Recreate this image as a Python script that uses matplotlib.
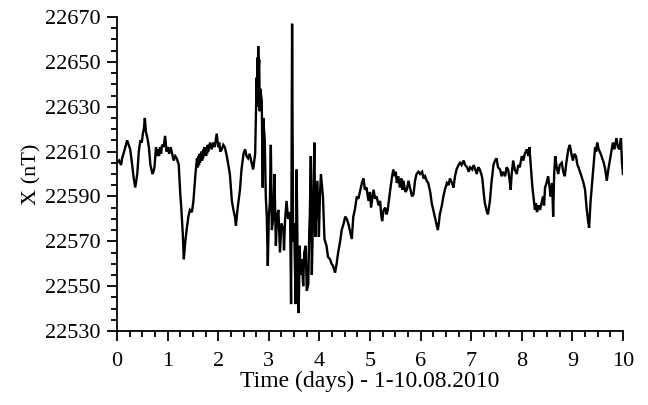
import matplotlib
matplotlib.use("Agg")
import matplotlib.pyplot as plt
from matplotlib.ticker import MultipleLocator, FixedLocator

plt.rcParams['font.family'] = ['Liberation Serif', 'DejaVu Serif']

days = [
    0.00, 0.04, 0.08, 0.10, 0.14, 0.20, 0.23, 0.26, 0.30, 0.33, 0.36, 0.38, 0.40, 0.43, 0.46, 0.49,
    0.51, 0.53, 0.55, 0.57, 0.60, 0.63, 0.66, 0.70, 0.72, 0.74, 0.77, 0.79, 0.81, 0.83, 0.85, 0.87,
    0.89, 0.92, 0.95, 0.98, 1.00, 1.03, 1.06, 1.09, 1.12, 1.15, 1.18, 1.22, 1.25, 1.27, 1.30, 1.32,
    1.35, 1.38, 1.41, 1.44, 1.48, 1.51, 1.55, 1.58,
    1.60, 1.61, 1.62, 1.63, 1.64, 1.65, 1.66, 1.67, 1.68, 1.69, 1.70, 1.71, 1.72, 1.73, 1.74, 1.75,
    1.76, 1.77, 1.78, 1.79, 1.80, 1.82, 1.84, 1.87, 1.90, 1.93, 1.97,
    2.00, 2.02, 2.04, 2.07, 2.10, 2.13, 2.17, 2.20, 2.23, 2.27, 2.30, 2.33, 2.35, 2.38, 2.43, 2.46,
    2.50, 2.53, 2.56, 2.59, 2.62, 2.66, 2.69, 2.73,
    2.76, 2.77, 2.78, 2.785, 2.79, 2.80, 2.81, 2.82, 2.83, 2.86, 2.88, 2.89, 2.92, 2.94, 2.96, 2.98,
    3.00, 3.02, 3.04, 3.06,
    3.09, 3.11, 3.14, 3.16, 3.19, 3.22, 3.25, 3.29, 3.30, 3.32, 3.35, 3.38, 3.42, 3.44, 3.46, 3.48,
    3.50, 3.53, 3.55, 3.57, 3.59, 3.61, 3.63, 3.65, 3.68, 3.70, 3.73, 3.75, 3.78, 3.80, 3.81, 3.83,
    3.85, 3.88, 3.90, 3.92, 3.93, 3.96, 3.99, 4.01, 4.03, 4.05, 4.07, 4.10, 4.14, 4.17, 4.21, 4.24,
    4.27, 4.31, 4.34, 4.37, 4.41, 4.44, 4.48, 4.51, 4.54, 4.57, 4.61, 4.64, 4.67, 4.70, 4.74, 4.77,
    4.80, 4.84, 4.87, 4.90, 4.93, 4.97, 5.00, 5.02, 5.05, 5.07, 5.10, 5.13, 5.17, 5.20, 5.22, 5.24,
    5.27, 5.30, 5.33, 5.35, 5.40, 5.43, 5.46, 5.49, 5.51, 5.53, 5.56, 5.59, 5.62, 5.64, 5.66, 5.70,
    5.73, 5.76, 5.79, 5.83, 5.86, 5.89, 5.92, 5.96, 5.99, 6.03, 6.06, 6.09, 6.12, 6.15, 6.19, 6.22,
    6.25, 6.28, 6.31, 6.34, 6.36, 6.38, 6.42, 6.45, 6.48, 6.52, 6.55, 6.58, 6.62, 6.65, 6.68, 6.71,
    6.75, 6.78, 6.81, 6.85, 6.88, 6.92, 6.95, 6.98, 7.02, 7.05, 7.08, 7.11, 7.14, 7.17, 7.20, 7.22,
    7.25, 7.27, 7.30, 7.33, 7.35, 7.37, 7.40, 7.44, 7.47, 7.50, 7.53, 7.57, 7.60, 7.63, 7.67, 7.70,
    7.73, 7.76, 7.78, 7.80, 7.83, 7.86, 7.90, 7.93, 7.96, 8.00, 8.03, 8.06, 8.10, 8.13, 8.15, 8.17,
    8.19, 8.21, 8.23, 8.26, 8.28, 8.30, 8.33, 8.36, 8.39, 8.42, 8.44, 8.46, 8.49, 8.52, 8.55, 8.57,
    8.60, 8.62, 8.64, 8.66, 8.69, 8.72, 8.75, 8.79, 8.82, 8.85, 8.88, 8.92, 8.95, 8.98, 9.01, 9.04,
    9.07, 9.10, 9.12, 9.15, 9.18, 9.22, 9.25, 9.28, 9.31, 9.33, 9.36, 9.40, 9.43, 9.45, 9.47, 9.49,
    9.52, 9.56, 9.59, 9.62, 9.65, 9.68, 9.71, 9.74, 9.77, 9.80, 9.83, 9.87, 9.90, 9.93, 9.96, 9.98,
    10.00,
]

x_nT = [
    22605, 22606, 22604, 22607, 22610, 22615, 22613, 22611, 22604, 22598, 22594, 22597, 22600, 22610, 22615, 22614,
    22618, 22620, 22625, 22619, 22616, 22612, 22604, 22600, 22601, 22603, 22612, 22608, 22611, 22608, 22612, 22609,
    22613, 22612, 22617, 22610, 22612, 22609, 22612, 22609, 22606, 22608, 22607, 22604, 22591, 22585, 22573, 22562,
    22570, 22576, 22581, 22584, 22583, 22588, 22600, 22607,
    22603, 22608, 22604, 22609, 22605, 22609, 22606, 22610, 22606, 22609, 22607, 22611, 22608, 22612, 22609, 22612,
    22608, 22612, 22609, 22613, 22610, 22612, 22614, 22611, 22614, 22612, 22618,
    22612, 22614, 22610, 22611, 22613, 22612, 22608, 22604, 22600, 22588, 22584, 22581, 22577, 22584, 22593, 22602,
    22609, 22611, 22608, 22607, 22609, 22605, 22602, 22609,
    22643, 22630, 22652, 22640, 22657, 22646, 22651, 22628, 22638, 22633, 22594, 22625, 22615, 22590, 22581, 22559,
    22581, 22587, 22613, 22575,
    22581, 22600, 22568, 22581, 22584, 22565, 22578, 22575, 22566, 22579, 22588, 22580, 22583, 22542, 22667, 22570,
    22578, 22542, 22602, 22560, 22538, 22568, 22555, 22562, 22550, 22565, 22568, 22548, 22551, 22575, 22581, 22608,
    22555, 22588, 22614, 22572, 22579, 22597, 22572, 22590, 22600, 22595, 22590, 22571, 22568, 22563, 22562, 22560,
    22559, 22556, 22560, 22565, 22570, 22575, 22578, 22581, 22580, 22578, 22574, 22571, 22581, 22584, 22590, 22589,
    22592, 22596, 22598, 22593, 22594, 22588, 22592, 22585, 22590, 22593, 22589, 22590, 22586, 22588, 22582, 22579,
    22584, 22585, 22582, 22584, 22593, 22598, 22602, 22599, 22601, 22596, 22599, 22594, 22598, 22593, 22597, 22592,
    22593, 22597, 22594, 22590, 22591, 22597, 22600, 22601, 22600, 22601, 22598, 22599, 22597, 22596, 22592, 22587,
    22584, 22581, 22578, 22575, 22578, 22582, 22586, 22590, 22593, 22596, 22595, 22598, 22596, 22594, 22599, 22602,
    22604, 22605, 22604, 22606, 22604, 22603, 22601, 22603, 22602, 22604, 22602, 22600, 22603, 22602, 22600, 22598,
    22591, 22587, 22584, 22582, 22585, 22588, 22596, 22604, 22606, 22607, 22603, 22602, 22599, 22601, 22599, 22603,
    22602, 22597, 22593, 22600, 22606, 22602, 22600, 22604, 22603, 22608, 22606, 22609, 22611, 22608, 22612, 22606,
    22600, 22594, 22590, 22584, 22587, 22583, 22586, 22584, 22587, 22590, 22586, 22594, 22596, 22599, 22594, 22590,
    22596, 22581, 22600, 22608, 22603, 22600, 22604, 22605, 22601, 22599, 22605, 22611, 22613, 22609, 22606, 22609,
    22608, 22604, 22603, 22601, 22599, 22596, 22593, 22585, 22579, 22576, 22588, 22599, 22607, 22612, 22610, 22614,
    22611, 22609, 22607, 22605, 22602, 22597, 22602, 22606, 22610, 22614, 22611, 22616, 22612, 22611, 22616, 22605,
    22600,
]

x_ticks = [0, 1, 2, 3, 4, 5, 6, 7, 8, 9, 10]
y_ticks = [22530, 22550, 22570, 22590, 22610, 22630, 22650, 22670]
x_label = "Time (days) - 1-10.08.2010"
y_label = "X (nT)"

fig = plt.figure(figsize=(6.48, 4.05), dpi=100)
ax = fig.add_axes([0.1806, 0.1827, 0.7808, 0.7753])
ax.plot(days, x_nT, color='black', lw=1.7, solid_joinstyle='miter')

ax.set_xlim(0, 10)
ax.set_ylim(22530, 22670)
ax.xaxis.set_major_locator(FixedLocator(x_ticks))
ax.yaxis.set_major_locator(FixedLocator(y_ticks))
ax.xaxis.set_minor_locator(MultipleLocator(0.25))
ax.yaxis.set_minor_locator(MultipleLocator(5))
ax.set_xticklabels([str(v) for v in x_ticks])
ax.set_yticklabels([str(v) for v in y_ticks])

for s in ['top', 'right']:
    ax.spines[s].set_visible(False)
for s in ['left', 'bottom']:
    ax.spines[s].set_linewidth(1.3)

ax.tick_params(which='major', direction='out', length=7, width=1.3, labelsize=16, pad=5)
ax.tick_params(axis='x', which='major', pad=8)
ax.tick_params(which='minor', direction='out', length=4, width=1.3)

ax.set_xlabel(x_label, fontsize=17, labelpad=0)
ax.set_ylabel(y_label, fontsize=16, labelpad=2)

fig.savefig("out.png", dpi=100)
